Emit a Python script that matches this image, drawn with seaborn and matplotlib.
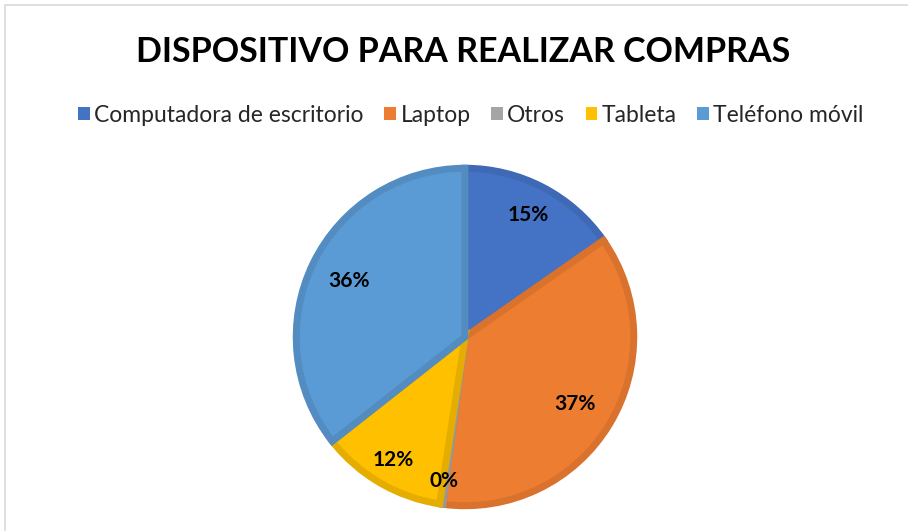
import numpy as np
import matplotlib
matplotlib.use('Agg')
import matplotlib.pyplot as plt
import seaborn as sns
from matplotlib.patches import Rectangle

categories = ['Computadora de escritorio', 'Laptop', 'Otros', 'Tableta', 'Teléfono móvil']
values = [15.3, 36.8, 0.3, 12.0, 35.6]
labels_pct = ['15%', '37%', '0%', '12%', '36%']
colors = ['#4472C4', '#ED7D31', '#A5A5A5', '#FFC000', '#5B9BD5']
edge_colors = ['#3F69B5', '#D9722C', '#989898', '#E5AD00', '#528CC0']

sns.set_theme(style='white')
plt.rcParams['font.family'] = ['Lato', 'DejaVu Sans']

fig = plt.figure(figsize=(9.08, 5.31), dpi=100)

# chart frame (Excel style border)
fig.patches.append(Rectangle((5 / 908, -0.1), 1.2, 1 - 5 / 531 + 0.1,
                             transform=fig.transFigure, fill=False,
                             edgecolor='#d9d9d9', linewidth=1.2))

cx, cy, r = 465, 337, 173
ax = fig.add_axes([(cx - r) / 908, (531 - cy - r) / 531, 2 * r / 908, 2 * r / 531])

wedges, _ = ax.pie(values, colors=colors, startangle=90, counterclock=False,
                   radius=0.995, wedgeprops=dict(linewidth=5))
for w, ec in zip(wedges, edge_colors):
    w.set_edgecolor(ec)

# percentage labels placed along each wedge's middle angle
label_dist = [0.81, 0.76, 0.86, 0.84, 0.76]
for w, lab, d in zip(wedges, labels_pct, label_dist):
    ang = np.deg2rad((w.theta1 + w.theta2) / 2)
    ax.text(d * np.cos(ang), d * np.sin(ang), lab, ha='center', va='center',
            fontsize=15, fontweight='bold', color='black')

ax.set_xlim(-1.02, 1.02)
ax.set_ylim(-1.02, 1.02)
ax.set_aspect('equal')
ax.axis('off')

fig.text(463 / 908, 1 - 52 / 531, 'DISPOSITIVO PARA REALIZAR COMPRAS',
         ha='center', va='center', fontsize=24.5, fontweight='bold', color='black')

handles = [plt.Rectangle((0, 0), 1, 1, facecolor=c, edgecolor='none') for c in colors]
fig.legend(handles, categories, loc='center', bbox_to_anchor=(471 / 908, 1 - 115 / 531),
           ncol=5, frameon=False, fontsize=16.5, handlelength=0.5, handleheight=0.5,
           handletextpad=0.2, columnspacing=0.9)

fig.savefig('out.png', dpi=100, facecolor='white')
